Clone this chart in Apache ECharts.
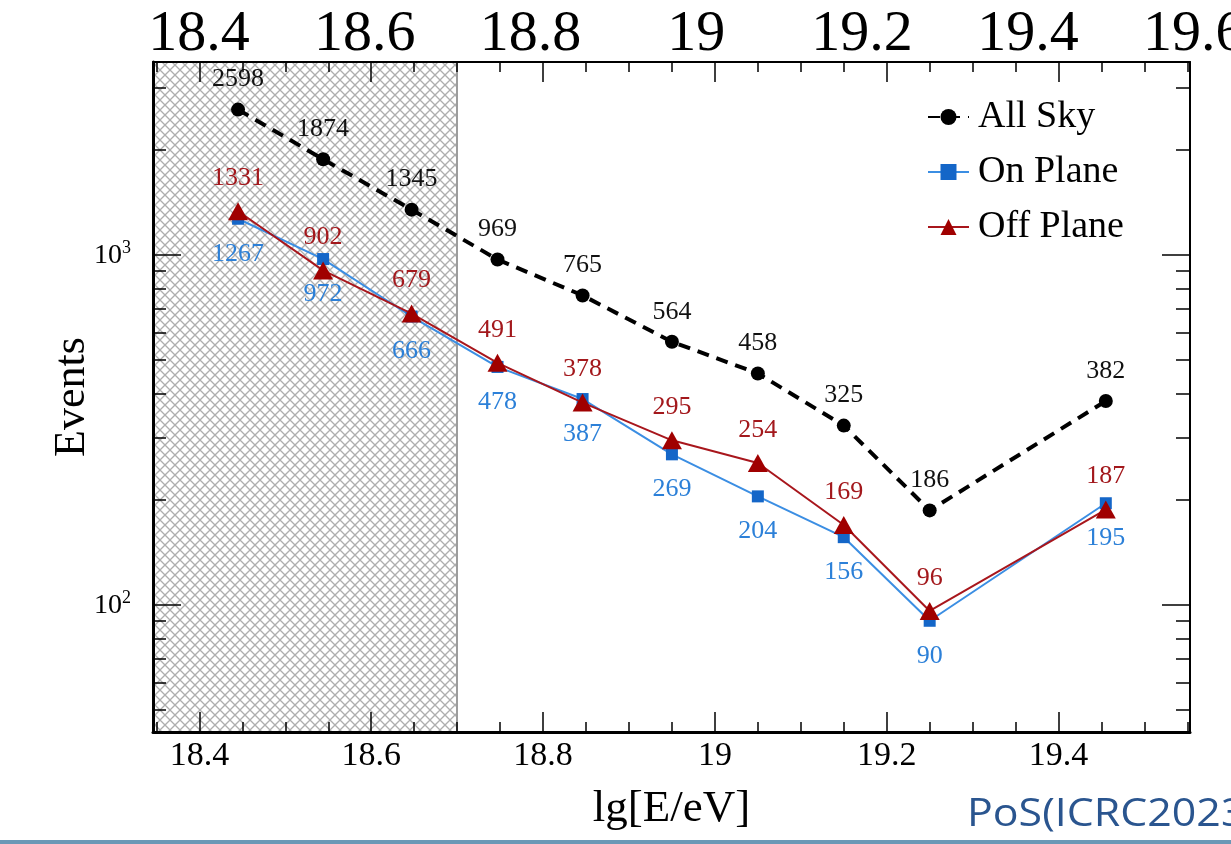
<!DOCTYPE html>
<html>
<head>
<meta charset="utf-8">
<script src="https://cdn.jsdelivr.net/npm/echarts@6/dist/echarts.min.js"></script>
<style>
  html, body { margin: 0; padding: 0; background: #ffffff; }
  #chart { width: 1231px; height: 844px; }
</style>
</head>
<body>
<div id="chart"></div>
<script>
// Energy bins (lg[E/eV]) and event counts per sky region
const energyBins = [18.445, 18.544, 18.647, 18.747, 18.846, 18.95, 19.05, 19.15, 19.25, 19.455];
const allSky   = [2598, 1874, 1345, 969, 765, 564, 458, 325, 186, 382];
const onPlane  = [1267, 972, 666, 478, 387, 269, 204, 156, 90, 195];
const offPlane = [1331, 902, 679, 491, 378, 295, 254, 169, 96, 187];

// Axis ranges and tick positions
const X_MIN = 18.346, X_MAX = 19.553;
const Y_MIN = 43.3, Y_MAX = 3553;
const TOP_MIN = 18.160, TOP_MAX = 19.645;
const xMajorTicks = [18.4, 18.6, 18.8, 19, 19.2, 19.4];
const xMinorTicks = [18.35, 18.45, 18.5, 18.55, 18.65, 18.7, 18.75, 18.85, 18.9, 18.95,
                     19.05, 19.1, 19.15, 19.25, 19.3, 19.35, 19.45, 19.5, 19.55];
const topTickLabels = [18.4, 18.6, 18.8, 19, 19.2, 19.4, 19.6];
const yMajorTicks = [100, 1000];
const yMinorTicks = [50, 60, 70, 80, 90, 200, 300, 400, 500, 600, 700, 800, 900, 2000, 3000];
const excludedUpTo = 18.7;   // shaded, excluded energy range

const SERIF = '"Liberation Serif", "DejaVu Serif", serif';

// cross-hatch fill for the excluded region
function hatchPattern() {
  const c = document.createElement('canvas');
  c.width = 10; c.height = 10;
  const ctx = c.getContext('2d');
  ctx.strokeStyle = '#aeaeae';
  ctx.lineWidth = 1.35;
  ctx.beginPath();
  ctx.moveTo(-1, -1); ctx.lineTo(11, 11);
  ctx.moveTo(11, -1); ctx.lineTo(-1, 11);
  ctx.stroke();
  return c;
}

function pairs(ys) { return energyBins.map((x, i) => [x, ys[i]]); }

const chart = echarts.init(document.getElementById('chart'), null, { renderer: 'canvas' });

const tickLine = { color: '#000', width: 1.5 };
const AXIS_Z = 10;

const option = {
  animation: false,
  backgroundColor: '#ffffff',
  grid: [
    { left: 153, right: 41, top: 62, bottom: 112, containLabel: false, outerBoundsMode: 'none' },
    { left: 0, right: 0, top: 62, height: 10, containLabel: false, outerBoundsMode: 'none' }
  ],
  xAxis: [
    {
      gridIndex: 0, type: 'value', position: 'bottom', min: X_MIN, max: X_MAX, z: AXIS_Z,
      axisLine: { show: true, onZero: false, lineStyle: { color: '#000', width: 3 } },
      axisTick: { show: true, inside: true, length: 20, customValues: xMajorTicks, lineStyle: tickLine },
      axisLabel: {
        show: true, customValues: xMajorTicks, margin: 24, verticalAlign: 'middle',
        fontFamily: SERIF, fontSize: 34, color: '#000',
        formatter: v => String(+v.toFixed(2))
      },
      splitLine: { show: false },
      name: 'lg[E/eV]', nameLocation: 'middle', nameGap: 77, nameMoveOverlap: false,
      nameTextStyle: { fontFamily: SERIF, fontSize: 45, color: '#000', verticalAlign: 'middle' }
    },
    {
      gridIndex: 0, type: 'value', position: 'bottom', min: X_MIN, max: X_MAX, z: AXIS_Z,
      axisLine: { show: false, onZero: false },
      axisTick: { show: true, inside: true, length: 10, customValues: xMinorTicks, lineStyle: tickLine },
      axisLabel: { show: false }, splitLine: { show: false }
    },
    {
      gridIndex: 0, type: 'value', position: 'top', min: X_MIN, max: X_MAX, z: AXIS_Z,
      axisLine: { show: true, onZero: false, lineStyle: { color: '#000', width: 2 } },
      axisTick: { show: true, inside: true, length: 20, customValues: xMajorTicks, lineStyle: tickLine },
      axisLabel: { show: false }, splitLine: { show: false }
    },
    {
      gridIndex: 0, type: 'value', position: 'top', min: X_MIN, max: X_MAX, z: AXIS_Z,
      axisLine: { show: false, onZero: false },
      axisTick: { show: true, inside: true, length: 10, customValues: xMinorTicks, lineStyle: tickLine },
      axisLabel: { show: false }, splitLine: { show: false }
    },
    {
      gridIndex: 1, type: 'value', position: 'top', min: TOP_MIN, max: TOP_MAX,
      axisLine: { show: false, onZero: false },
      axisTick: { show: false },
      axisLabel: {
        show: true, customValues: topTickLabels, margin: 27, verticalAlign: 'middle',
        fontFamily: SERIF, fontSize: 58, color: '#000',
        formatter: v => String(+v.toFixed(2))
      },
      splitLine: { show: false }
    }
  ],
  yAxis: [
    {
      gridIndex: 0, type: 'log', logBase: 10, position: 'left', min: Y_MIN, max: Y_MAX, z: AXIS_Z,
      axisLine: { show: true, onZero: false, lineStyle: { color: '#000', width: 3 } },
      axisTick: { show: true, inside: true, length: 28, customValues: yMajorTicks, lineStyle: tickLine },
      minorTick: { show: false },
      axisLabel: {
        show: true, customValues: yMajorTicks, margin: 22,
        formatter: v => '{b|10}{s|' + Math.round(Math.log10(v)) + '}',
        rich: {
          b: { fontFamily: SERIF, fontSize: 28, color: '#000', verticalAlign: 'bottom', lineHeight: 28 },
          s: { fontFamily: SERIF, fontSize: 18, color: '#000', verticalAlign: 'top', lineHeight: 30, padding: [0, 0, 14, 0] }
        }
      },
      splitLine: { show: false },
      name: 'Events', nameLocation: 'middle', nameGap: 81, nameRotate: 90, nameMoveOverlap: false,
      nameTextStyle: { fontFamily: SERIF, fontSize: 44, color: '#000', verticalAlign: 'middle' }
    },
    {
      gridIndex: 0, type: 'log', logBase: 10, position: 'left', min: Y_MIN, max: Y_MAX, z: AXIS_Z,
      axisLine: { show: false, onZero: false },
      axisTick: { show: true, inside: true, length: 13, customValues: yMinorTicks, lineStyle: tickLine },
      minorTick: { show: false },
      axisLabel: { show: false }, splitLine: { show: false }
    },
    {
      gridIndex: 0, type: 'log', logBase: 10, position: 'right', min: Y_MIN, max: Y_MAX, z: AXIS_Z,
      axisLine: { show: true, onZero: false, lineStyle: { color: '#000', width: 2 } },
      axisTick: { show: true, inside: true, length: 28, customValues: yMajorTicks, lineStyle: tickLine },
      minorTick: { show: false },
      axisLabel: { show: false }, splitLine: { show: false }
    },
    {
      gridIndex: 0, type: 'log', logBase: 10, position: 'right', min: Y_MIN, max: Y_MAX, z: AXIS_Z,
      axisLine: { show: false, onZero: false },
      axisTick: { show: true, inside: true, length: 14, customValues: yMinorTicks, lineStyle: tickLine },
      minorTick: { show: false },
      axisLabel: { show: false }, splitLine: { show: false }
    },
    { gridIndex: 1, type: 'value', show: false }
  ],
  legend: {
    orient: 'vertical', left: 927, top: 98, padding: 0,
    itemWidth: 41, itemHeight: 20, itemGap: 17,
    textStyle: { fontFamily: SERIF, fontSize: 38, lineHeight: 38, color: '#000', padding: [0, 0, 0, 4] },
    data: ['All Sky', 'On Plane', 'Off Plane']
  },
  series: [
    {
      name: 'All Sky', type: 'line', xAxisIndex: 0, yAxisIndex: 0,
      data: pairs(allSky),
      symbol: 'circle', symbolSize: 14,
      itemStyle: { color: '#000' },
      lineStyle: { color: '#000', width: 4, type: [12, 8] },
      label: { show: true, position: 'top', distance: 10, fontFamily: SERIF, fontSize: 26, color: '#111' },
      markArea: {
        silent: true,
        itemStyle: { color: { image: hatchPattern(), repeat: 'repeat' }, borderWidth: 0 },
        data: [[{ xAxis: X_MIN }, { xAxis: excludedUpTo }]]
      },
      markLine: {
        silent: true, z: 1, symbol: ['none', 'none'],
        label: { show: false },
        lineStyle: { color: '#9c9c9c', width: 2, type: 'solid' },
        data: [{ xAxis: excludedUpTo }]
      },
      z: 3
    },
    {
      name: 'On Plane', type: 'line', xAxisIndex: 0, yAxisIndex: 0,
      data: pairs(onPlane),
      symbol: 'rect', symbolSize: 12,
      itemStyle: { color: '#1466c8' },
      lineStyle: { color: '#3b8ee3', width: 2 },
      label: { show: true, position: 'bottom', distance: 16, fontFamily: SERIF, fontSize: 26, color: '#2c80d8' },
      z: 4
    },
    {
      name: 'Off Plane', type: 'line', xAxisIndex: 0, yAxisIndex: 0,
      data: pairs(offPlane),
      symbol: 'triangle', symbolSize: [20, 18],
      itemStyle: { color: '#a00000' },
      lineStyle: { color: '#a8161c', width: 2 },
      label: { show: true, position: 'top', distance: 11, fontFamily: SERIF, fontSize: 26, color: '#a3181c' },
      z: 5
    }
  ],
  graphic: [
    {
      type: 'text', x: 967, y: 795, scaleX: 1.1, silent: true,
      style: { text: 'PoS(ICRC2023)', x: 0, y: 0, font: '39px "Open Sans", sans-serif', fill: '#2a558f', verticalAlign: 'top' }
    },
    {
      type: 'rect', silent: true,
      shape: { x: 0, y: 840, width: 1231, height: 4 },
      style: { fill: '#6b98b6' }
    }
  ]
};

chart.setOption(option);
</script>
</body>
</html>
